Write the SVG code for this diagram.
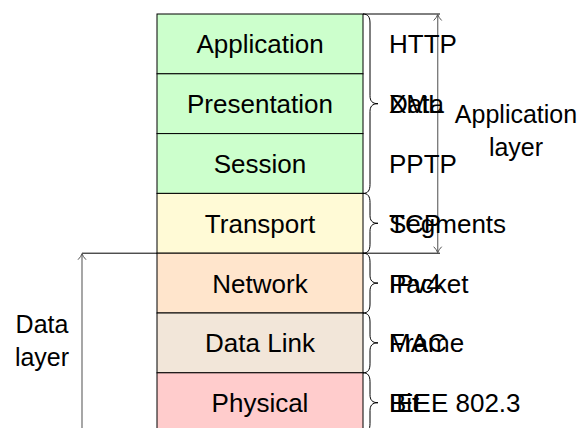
<svg xmlns="http://www.w3.org/2000/svg" width="584" height="428" viewBox="0 0 584 428">
<defs>
<style>
.box{stroke:#000;stroke-width:1}
.lbl{font-family:"Liberation Sans",Arial,sans-serif;font-size:26px;fill:#000;text-anchor:middle}
.ann{font-family:"Liberation Sans",Arial,sans-serif;font-size:26px;fill:#000}
.lay{font-family:"Liberation Sans",Arial,sans-serif;font-size:25px;fill:#000;text-anchor:middle}
.brace{fill:none;stroke:#000;stroke-width:1}
.ext{fill:none;stroke:#000;stroke-width:1}
.dim{fill:none;stroke:#777;stroke-width:1.3}
</style>
<marker id="tip" viewBox="0 0 10 10" refX="9" refY="5" markerWidth="10" markerHeight="10" markerUnits="userSpaceOnUse" orient="auto-start-reverse">
<path d="M3,1 Q6,4 9,5 Q6,6 3,9" fill="none" stroke="#555" stroke-width="1"/>
</marker>
</defs>
<rect width="584" height="428" fill="#fff"/>
<g id="application"><rect class="box" x="157" y="14" width="206" height="59.8" fill="#ccffcc"/><text class="lbl" x="260" y="53.4">Application</text></g>
<g id="presentation"><rect class="box" x="157" y="73.8" width="206" height="59.8" fill="#ccffcc"/><text class="lbl" x="260" y="113.2">Presentation</text></g>
<g id="session"><rect class="box" x="157" y="133.6" width="206" height="59.8" fill="#ccffcc"/><text class="lbl" x="260" y="173">Session</text></g>
<g id="transport"><rect class="box" x="157" y="193.4" width="206" height="59.8" fill="#fffad6"/><text class="lbl" x="260" y="232.8">Transport</text></g>
<g id="network"><rect class="box" x="157" y="253.2" width="206" height="59.8" fill="#ffe5cc"/><text class="lbl" x="260" y="292.6">Network</text></g>
<g id="datalink"><rect class="box" x="157" y="313" width="206" height="59.8" fill="#f2e6d9"/><text class="lbl" x="260" y="352.4">Data Link</text></g>
<g id="physical"><rect class="box" x="157" y="372.8" width="206" height="59.8" fill="#ffcccc"/><text class="lbl" x="260" y="412.2">Physical</text></g>
<g id="connectors">
<path class="brace" d="M363,14 C368,14 370,17 370,23 L370,95.7 C370,100.7 372,103.7 378,103.7 C372,103.7 370,106.7 370,111.7 L370,184.4 C370,190.4 368,193.4 363,193.4"/>
<path class="brace" d="M363,193.4 C368,193.4 370,196.4 370,202.4 L370,215.3 C370,220.3 372,223.3 378,223.3 C372,223.3 370,226.3 370,231.3 L370,244.2 C370,250.2 368,253.2 363,253.2"/>
<path class="brace" d="M363,253.2 C368,253.2 370,256.2 370,262.2 L370,275.1 C370,280.1 372,283.1 378,283.1 C372,283.1 370,286.1 370,291.1 L370,304 C370,310 368,313 363,313"/>
<path class="brace" d="M363,313 C368,313 370,316 370,322 L370,334.9 C370,339.9 372,342.9 378,342.9 C372,342.9 370,345.9 370,350.9 L370,363.8 C370,369.8 368,372.8 363,372.8"/>
<path class="brace" d="M363,372.8 C368,372.8 370,375.8 370,381.8 L370,394.7 C370,399.7 372,402.7 378,402.7 C372,402.7 370,405.7 370,410.7 L370,423.6 C370,429.6 368,432.6 363,432.6"/>
<path class="ext" d="M363,14 H440 M363,253.2 H440 M82,253.2 H157"/>
<path class="dim" d="M437.7,14.5 V252.7" marker-start="url(#tip)" marker-end="url(#tip)"/>
<path class="dim" d="M82,253.7 V440" marker-start="url(#tip)"/>
</g>
<g id="annotations">
<text class="ann" x="389" y="53.4">HTTP</text>
<text class="ann" x="389" y="113.2">XML</text>
<text class="ann" x="389" y="113.2">Data</text>
<text class="ann" x="389" y="173">PPTP</text>
<text class="ann" x="389" y="232.8">TCP</text>
<text class="ann" x="389" y="232.8">Segments</text>
<text class="ann" x="389" y="292.6">IPv4</text>
<text class="ann" x="389" y="292.6">Packet</text>
<text class="ann" x="389" y="352.4">MAC</text>
<text class="ann" x="389" y="352.4">Frame</text>
<text class="ann" x="389" y="412.2">IEEE 802.3</text>
<text class="ann" x="389" y="412.2">Bit</text>
</g>
<g id="application-layer"><text class="lay" x="516" y="123">Application</text><text class="lay" x="516" y="155.5">layer</text></g>
<g id="data-layer"><text class="lay" x="42" y="333">Data</text><text class="lay" x="42" y="365.5">layer</text></g>
</svg>
